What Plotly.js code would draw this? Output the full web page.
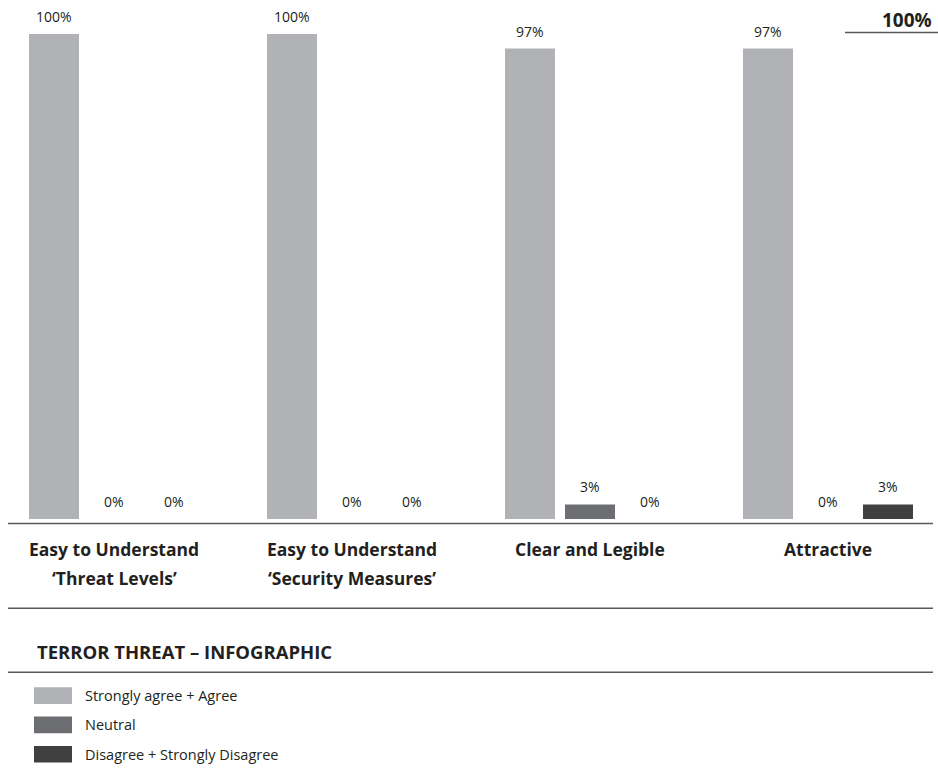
<!DOCTYPE html>
<html>
<head>
<meta charset="utf-8">
<script src="https://cdn.plot.ly/plotly-3.0.1.min.js"></script>
<style>html,body{margin:0;padding:0;background:#fff;}#chart{width:938px;height:771px;}</style>
</head>
<body>
<div id="chart"></div>
<script>
// ---- data ----
var categories = ["Easy to Understand 'Threat Levels'", "Easy to Understand 'Security Measures'", "Clear and Legible", "Attractive"];
var catLine1 = ["Easy to Understand", "Easy to Understand", "Clear and Legible", "Attractive"];
var catLine2 = ["\u2018Threat Levels\u2019", "\u2018Security Measures\u2019", "", ""];
var seriesNames = ["Strongly agree + Agree", "Neutral", "Disagree + Strongly Disagree"];
var agreeValues = [100, 100, 97, 97];
var neutralValues = [0, 0, 3, 0];
var disagreeValues = [0, 0, 0, 3];
var chartTitle = "TERROR THREAT \u2013 INFOGRAPHIC";
var axisMax = 100;

// ---- style ----
var colors = ["#b1b2b5", "#6d6e71", "#404041"];
var textColor = "#231f20";
var font = "'Open Sans', 'Noto Sans', sans-serif";
var W = 938, H = 771;
var mt = 34, mb = 252;             // plot area: y=34 (100%) to y=519 (0%)
var plotH = H - mt - mb;
function py(p) { return (H - mb - p) / plotH; } // pixel -> paper y
function px(p) { return p / W; }

var seriesValues = [agreeValues, neutralValues, disagreeValues];
var traces = seriesValues.map(function (vals, i) {
  return {
    type: "bar",
    name: seriesNames[i],
    x: categories,
    y: vals,
    marker: { color: colors[i], line: { width: 0 } },
    showlegend: false,
    hoverinfo: "none"
  };
});

var annotations = [];
// value labels above each bar
seriesValues.forEach(function (vals, i) {
  vals.forEach(function (v, j) {
    annotations.push({
      x: categories[j], y: v, xref: "x", yref: "y",
      xshift: (i - 1) * 60, yshift: 17.5,
      text: v + "%", showarrow: false,
      xanchor: "center", yanchor: "middle",
      font: { family: font, size: 14, color: textColor }
    });
  });
});
// category labels
categories.forEach(function (c, j) {
  annotations.push({
    x: c, y: py(549), xref: "x", yref: "paper", text: "<b>" + catLine1[j] + "</b>",
    showarrow: false, xanchor: "center", yanchor: "middle",
    font: { family: font, size: 17.5, color: textColor }
  });
  if (catLine2[j]) {
    annotations.push({
      x: c, y: py(578), xref: "x", yref: "paper", text: "<b>" + catLine2[j] + "</b>",
      showarrow: false, xanchor: "center", yanchor: "middle",
      font: { family: font, size: 17.5, color: textColor }
    });
  }
});
// top-right 100% marker
annotations.push({
  x: px(934), y: py(20), xref: "paper", yref: "paper", text: "<b>" + axisMax + "%</b>",
  showarrow: false, xanchor: "right", yanchor: "middle",
  font: { family: font, size: 19, color: textColor }
});
// title
annotations.push({
  x: px(35), y: py(651.5), xref: "paper", yref: "paper", text: "<b>" + chartTitle + "</b>",
  showarrow: false, xanchor: "left", yanchor: "middle",
  font: { family: font, size: 18.5, color: textColor }
});

var shapes = [];
var lineColor = "#58595b";
[523.5, 608.3, 672.3].forEach(function (p) {
  shapes.push({ type: "line", xref: "paper", yref: "paper", x0: px(8), x1: px(933), y0: py(p), y1: py(p),
    line: { color: lineColor, width: 1.5 } });
});
shapes.push({ type: "line", xref: "paper", yref: "paper", x0: px(845), x1: 1, y0: py(32.5), y1: py(32.5),
  line: { color: lineColor, width: 1.5 } });

// legend (custom, larger swatches)
seriesNames.forEach(function (n, i) {
  var top = 687.3 + i * 29.3;
  shapes.push({ type: "rect", xref: "paper", yref: "paper", x0: px(34), x1: px(72), y0: py(top), y1: py(top + 16.7),
    fillcolor: colors[i], line: { width: 0 } });
  annotations.push({
    x: px(83), y: py(top + 8.3), xref: "paper", yref: "paper", text: n,
    showarrow: false, xanchor: "left", yanchor: "middle",
    font: { family: font, size: 14.5, color: textColor }
  });
});

var x0 = -114 / 238, x1 = x0 + W / 238;
var layout = {
  width: W, height: H,
  margin: { l: 0, r: 0, t: mt, b: mb, pad: 0 },
  paper_bgcolor: "#fff", plot_bgcolor: "#fff",
  barmode: "group",
  bargap: 58 / 238,
  bargroupgap: 10 / 60,
  xaxis: { range: [x0, x1], showticklabels: false, showgrid: false, zeroline: false, showline: false, ticks: "", fixedrange: true },
  yaxis: { range: [0, axisMax], showticklabels: false, showgrid: false, zeroline: false, showline: false, ticks: "", fixedrange: true },
  annotations: annotations,
  shapes: shapes,
  font: { family: font, color: textColor },
  showlegend: false
};

Plotly.newPlot("chart", traces, layout, { displayModeBar: false, staticPlot: true });
</script>
</body>
</html>
